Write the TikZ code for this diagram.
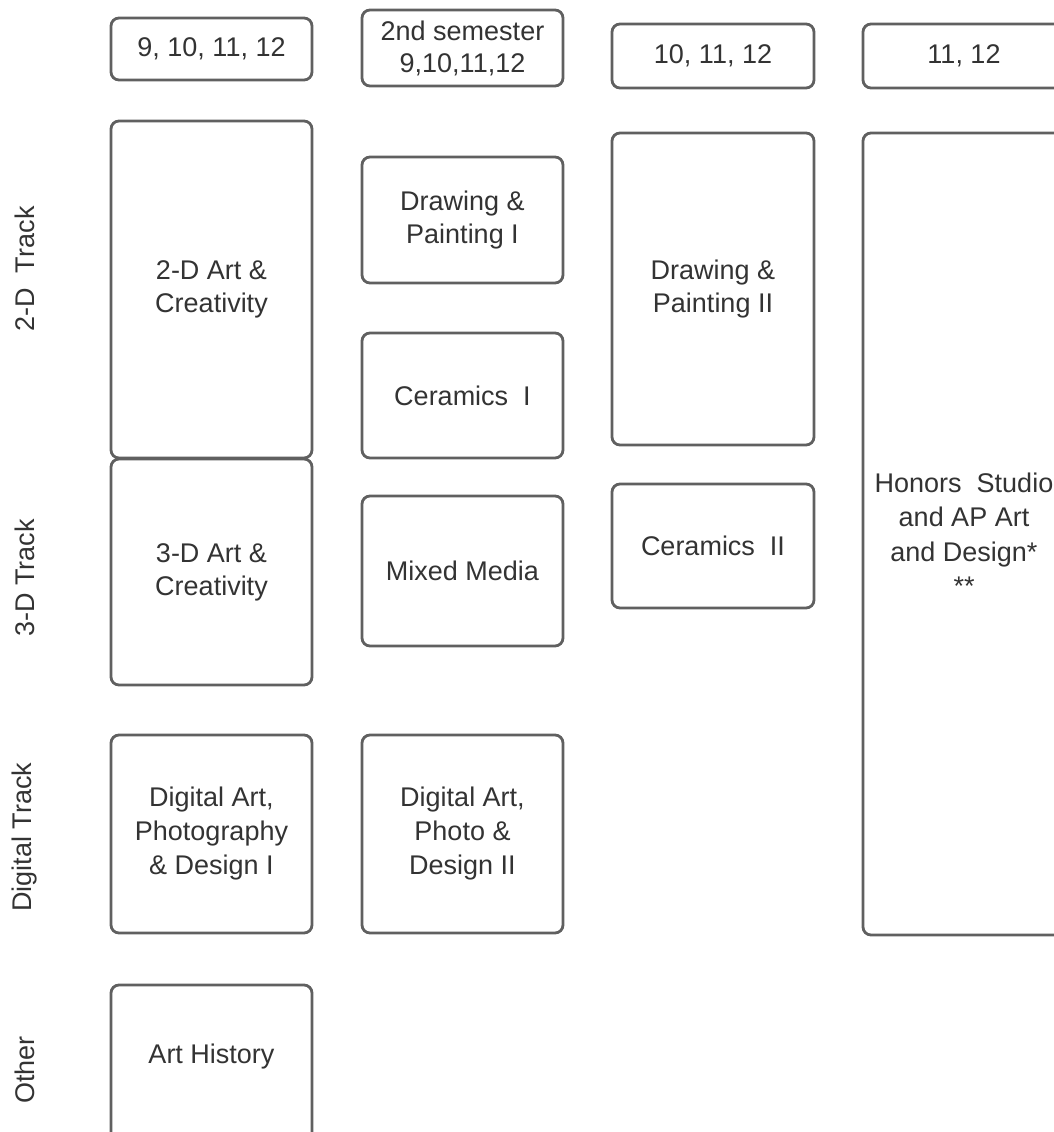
\documentclass[tikz,border=0pt]{standalone}
\usepackage{fontspec}
\setmainfont{Liberation Sans}
\definecolor{edge}{HTML}{606060}
\definecolor{ink}{HTML}{333333}
\begin{document}
\begin{tikzpicture}[x=1pt,y=-1pt,
  box/.style={draw=edge, line width=2.8pt, rounded corners=8pt, fill=white,
    align=center, text=ink, font=\fontsize{27}{33}\selectfont, inner sep=0pt},
  headbox/.style={box, font=\fontsize{27}{32}\selectfont},
  txt/.style={align=center, text=ink, font=\fontsize{27}{33}\selectfont, inner sep=0pt},
  track/.style={txt, rotate=90}]
\useasboundingbox (0,0) rectangle (1054,1132);
% headers
\node[headbox, minimum width=201pt, minimum height=62pt] (h1) at (211.5,49) {9, 10, 11, 12};
\node[headbox, minimum width=201pt, minimum height=76pt] (h2) at (462.5,48) {2nd semester\\9,10,11,12};
\node[headbox, minimum width=202pt, minimum height=64pt] (h3) at (713,56) {10, 11, 12};
\node[headbox, minimum width=202pt, minimum height=64pt] (h4) at (964,56) {11, 12};
% column 1
\node[box, minimum width=201pt, minimum height=337pt] (a2d) at (211.5,289.5) {2-D Art \&\\Creativity};
\node[box, minimum width=201pt, minimum height=226pt] (a3d) at (211.5,572) {3-D Art \&\\Creativity};
\node[box, minimum width=201pt, minimum height=198pt, font=\fontsize{27}{34}\selectfont] (dig1) at (211.5,834) {Digital Art,\\Photography\\\& Design I};
\node[box, minimum width=201pt, minimum height=205pt] (ah) at (211.5,1087.5) {};
\node[txt] (ahtext) at (211.5,1057) {Art History};
% column 2
\node[box, minimum width=201pt, minimum height=126pt] (dp1) at (462.5,220) {Drawing \&\\Painting I};
\node[box, minimum width=201pt, minimum height=125pt] (c1) at (462.5,395.5) {Ceramics~~I};
\node[box, minimum width=201pt, minimum height=150pt] (mm) at (462.5,571) {Mixed Media};
\node[box, minimum width=201pt, minimum height=198pt, font=\fontsize{27}{34}\selectfont] (dig2) at (462.5,834) {Digital Art,\\Photo \&\\Design II};
% column 3
\node[box, minimum width=202pt, minimum height=312pt] (dp2) at (713,289) {Drawing \&\\Painting II};
\node[box, minimum width=202pt, minimum height=124pt] (c2) at (713,546) {Ceramics~~II};
% column 4
\node[box, minimum width=202pt, minimum height=802pt, font=\fontsize{27}{34.5}\selectfont] (hon) at (964,534) {Honors~~Studio\\and AP Art\\and Design*\\**};
% track labels
\node[track] (t2d) at (25,269) {2-D~~Track};
\node[track] (t3d) at (25,578) {3-D Track};
\node[track] (tdig) at (25,837) {Digital Track};
\node[track] (toth) at (25,1070) {Other};
\end{tikzpicture}
\end{document}
